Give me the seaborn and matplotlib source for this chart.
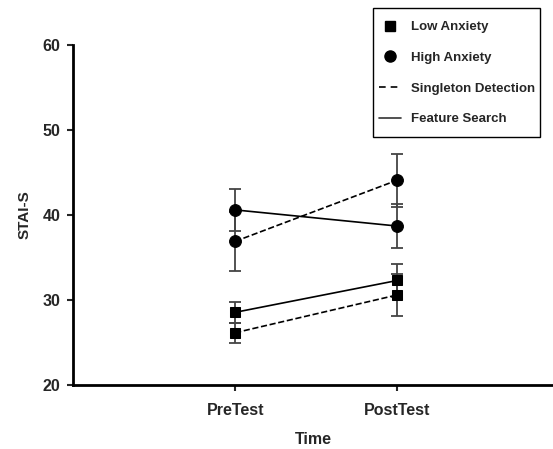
import matplotlib
matplotlib.use("Agg")
import matplotlib.pyplot as plt
from matplotlib.lines import Line2D
from matplotlib.patches import Rectangle
import seaborn as sns
import numpy as np
import pandas as pd

times = ["PreTest", "PostTest"]
groups = ["Low Anxiety", "High Anxiety"]
tasks = ["Singleton Detection", "Feature Search"]

low_singleton = [26.15, 30.6]
low_singleton_err = [1.15, 2.5]
low_feature = [28.55, 32.3]
low_feature_err = [1.2, 1.9]
high_singleton = [36.9, 44.1]
high_singleton_err = [3.5, 3.1]
high_feature = [40.6, 38.7]
high_feature_err = [2.5, 2.6]

yticks = [20, 30, 40, 50, 60]

series = [
    ("Low Anxiety", "Singleton Detection", low_singleton, low_singleton_err),
    ("Low Anxiety", "Feature Search", low_feature, low_feature_err),
    ("High Anxiety", "Singleton Detection", high_singleton, high_singleton_err),
    ("High Anxiety", "Feature Search", high_feature, high_feature_err),
]
rows = []
for g, t, vals, errs in series:
    for i, tm in enumerate(times):
        rows.append({"Group": g, "Task": t, "Time": tm, "pos": i, "STAI": vals[i], "err": errs[i]})
df = pd.DataFrame(rows)

sns.set_style("white")
plt.rcParams["font.family"] = ["Liberation Sans", "DejaVu Sans"]
plt.rcParams["font.weight"] = "bold"

fig = plt.figure(figsize=(5.53, 4.49), dpi=100)
ax = fig.add_axes([0.132, 0.1425, 0.868, 0.7573])

markers = {"Low Anxiety": "s", "High Anxiety": "o"}
msizes = {"Low Anxiety": 7, "High Anxiety": 8.5}

for (g, t), sub in df.groupby(["Group", "Task"], sort=False):
    ax.errorbar(sub["pos"], sub["STAI"], yerr=sub["err"], fmt="none",
                ecolor="#444444", elinewidth=1.3, capsize=4.5, capthick=1.3, zorder=1)
    sns.lineplot(data=sub, x="pos", y="STAI", ax=ax, color="black",
                 linewidth=1.2, marker=markers[g], markersize=msizes[g],
                 markeredgecolor="black", markerfacecolor="black",
                 dashes=False, linestyle="--" if t == "Singleton Detection" else "-",
                 zorder=3, legend=False)

ax.set_xlim(-1, 1.96)
ax.set_ylim(20, 60)
ax.set_yticks(yticks)
ax.set_xticks(range(len(times)))
ax.set_xticklabels(times)
ax.set_xlabel("Time", fontsize=11.5, fontweight="bold", labelpad=10)
ax.set_ylabel("STAI-S", fontsize=11, fontweight="bold", labelpad=8)
for s in ["top", "right"]:
    ax.spines[s].set_visible(False)
for s in ["left", "bottom"]:
    ax.spines[s].set_linewidth(2)
    ax.spines[s].set_color("black")
ax.tick_params(axis="both", direction="out", length=4, width=1.5, labelsize=11.5,
               left=True, bottom=True)
ax.tick_params(axis="x", pad=9)
ax.tick_params(axis="y", pad=5)
for lbl in ax.get_xticklabels() + ax.get_yticklabels():
    lbl.set_fontweight("bold")
ax.grid(False)

handles = [
    Line2D([], [], color="black", marker="s", linestyle="none", markersize=6.5),
    Line2D([], [], color="black", marker="o", linestyle="none", markersize=8),
    Line2D([], [], color="black", linestyle=(0, (4, 3)), linewidth=1.2),
    Line2D([], [], color="#333333", linestyle="-", linewidth=1.2),
]
labels = ["Low Anxiety", "High Anxiety", "Singleton Detection", "Feature Search"]
leg = fig.legend(handles, labels, loc="upper left", bbox_to_anchor=(379 / 553, 1 - 21 / 449),
                 frameon=False, fontsize=9.5,
                 labelspacing=1.40, handlelength=1.7,
                 handletextpad=0.7, borderpad=0, borderaxespad=0)
for txt in leg.get_texts():
    txt.set_fontweight("bold")
fig.add_artist(Rectangle((373 / 553, 1 - 137 / 449), 167 / 553, 129 / 449,
                         transform=fig.transFigure, fill=False,
                         edgecolor="black", linewidth=1.0))

fig.savefig("out.png", dpi=100)
